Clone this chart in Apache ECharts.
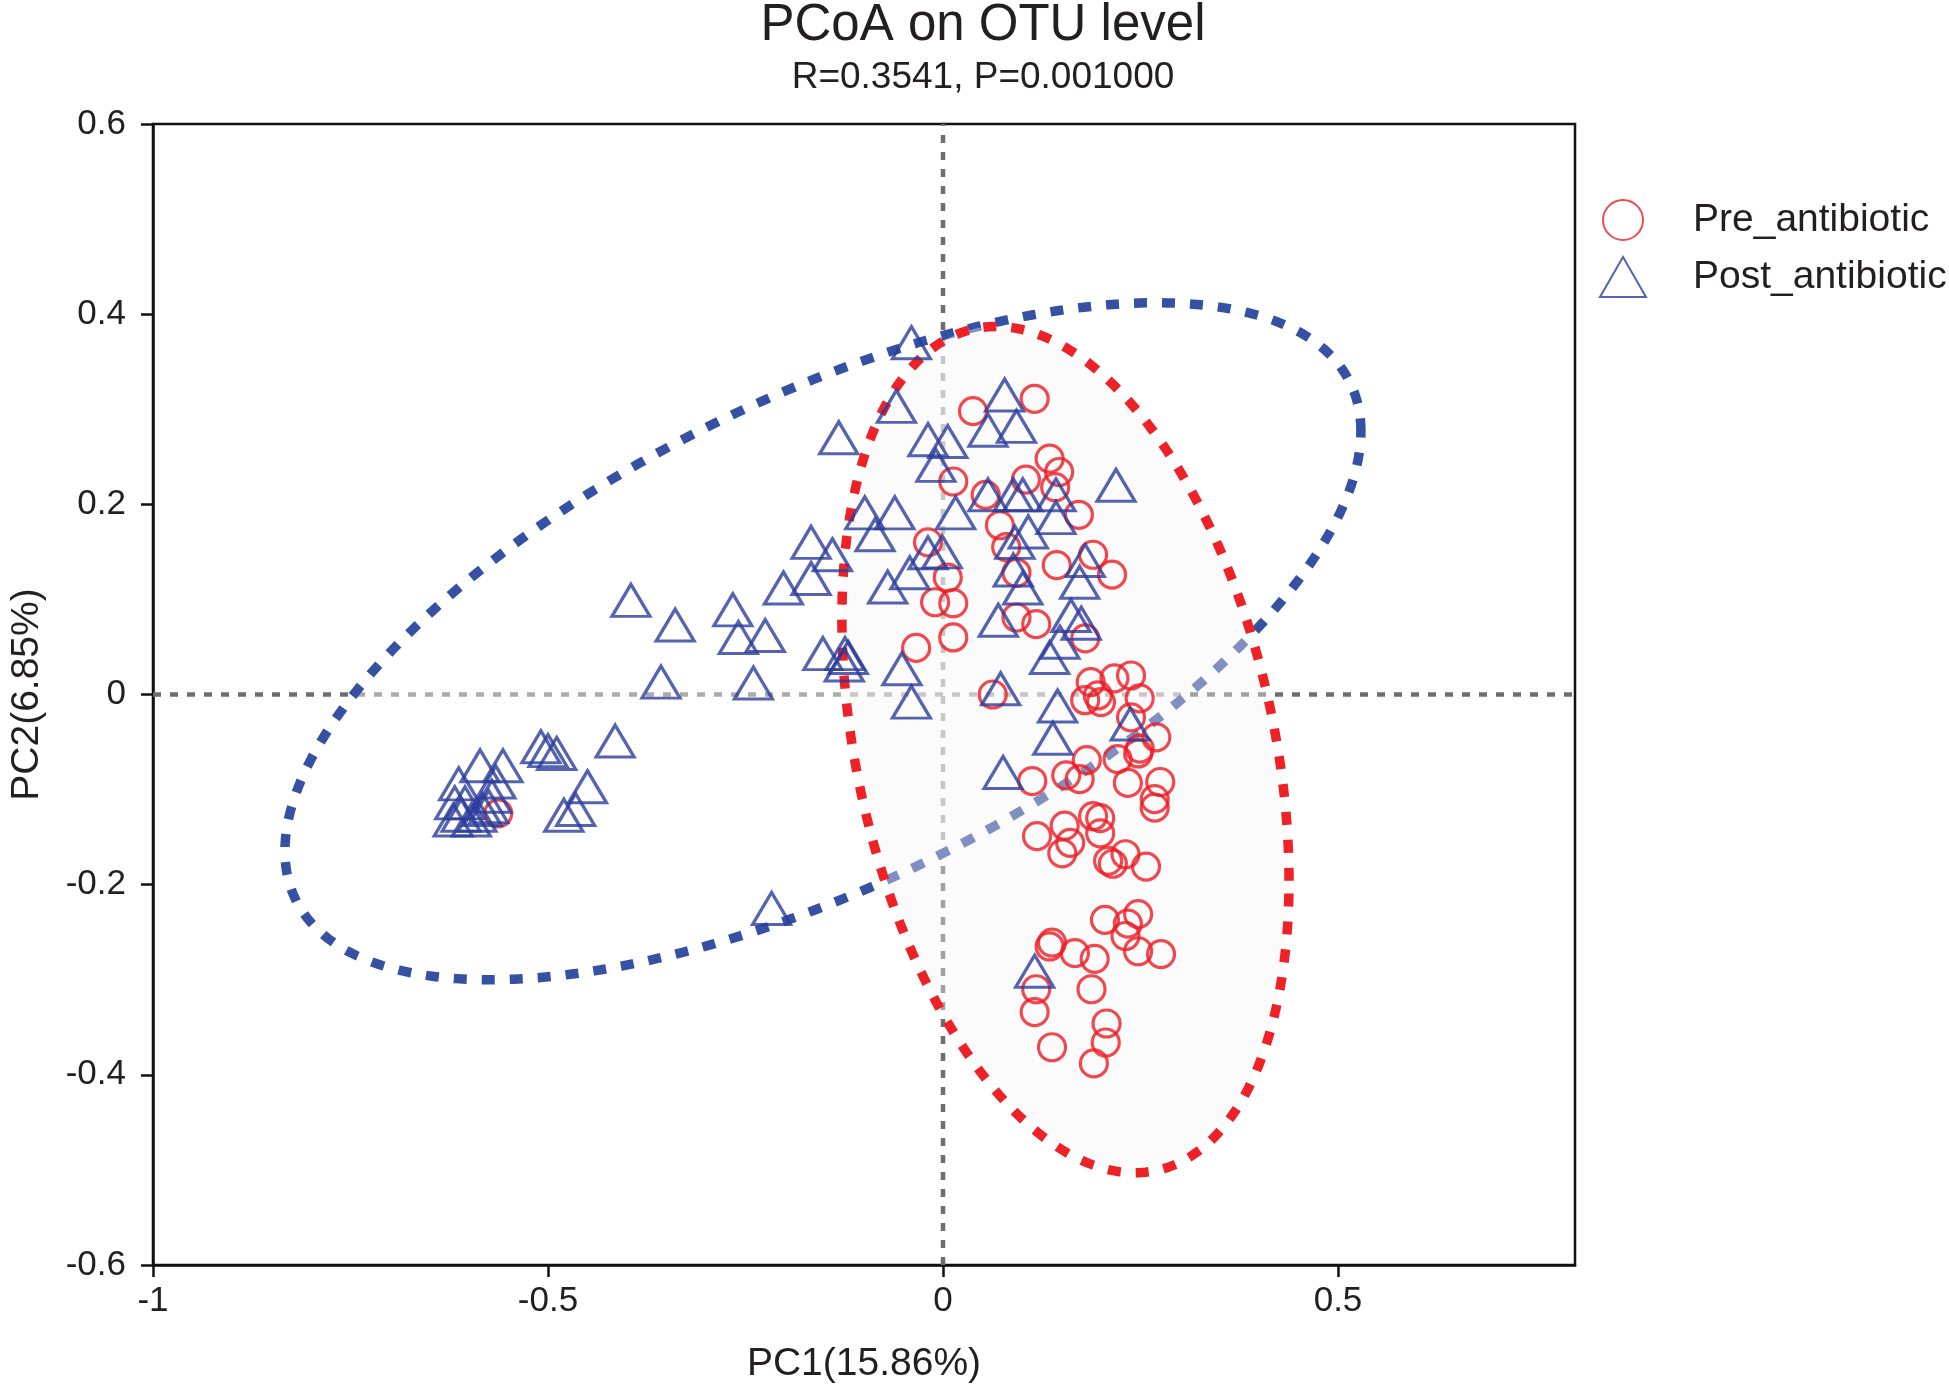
<!DOCTYPE html>
<html>
<head>
<meta charset="utf-8">
<title>PCoA on OTU level</title>
<script src="https://cdn.jsdelivr.net/npm/echarts@6/dist/echarts.min.js"></script>
<style>
  html, body { margin: 0; padding: 0; background: #fff; }
  #chart { width: 1949px; height: 1390px; }
</style>
</head>
<body>
<div id="chart"></div>
<script>
// groups and axis ranges
var groups = ["Pre_antibiotic", "Post_antibiotic"];
var xRange = [-1, 0.8];
var yRange = [-0.6, 0.6];

// PC1 / PC2 scores
var prePoints = [
    [0.116, 0.311], [0.038, 0.298], [0.135, 0.248], [0.147, 0.234], [0.105, 0.226],
    [0.142, 0.218], [0.013, 0.224], [0.054, 0.21], [0.172, 0.189], [0.072, 0.178],
    [0.080, 0.155], [-0.019, 0.16], [0.144, 0.136], [0.19, 0.147], [0.214, 0.126],
    [0.093, 0.128], [0.006, 0.123], [-0.010, 0.097], [0.013, 0.096], [0.093, 0.081],
    [0.118, 0.074], [0.013, 0.06], [0.18, 0.059], [-0.034, 0.049], [0.187, 0.013],
    [0.196, -0.001], [0.217, 0.017], [0.238, 0.02], [0.249, -0.004], [0.18, -0.006],
    [0.063, 0.0], [0.2, -0.008], [0.238, -0.024], [0.27, -0.045], [0.247, -0.062],
    [0.221, -0.068], [0.249, -0.057], [0.182, -0.069], [0.156, -0.085], [0.173, -0.089],
    [0.113, -0.091], [0.234, -0.093], [0.275, -0.092], [0.268, -0.11], [0.268, -0.119],
    [0.19, -0.128], [0.199, -0.13], [0.199, -0.146], [0.154, -0.138], [0.161, -0.156],
    [0.151, -0.167], [0.119, -0.149], [0.209, -0.175], [0.215, -0.178], [0.231, -0.168],
    [0.257, -0.181], [0.205, -0.237], [0.247, -0.231], [0.234, -0.241], [0.231, -0.254],
    [0.247, -0.27], [0.276, -0.273], [0.138, -0.261], [0.135, -0.265], [0.167, -0.272],
    [0.192, -0.278], [0.118, -0.31], [0.116, -0.334], [0.188, -0.31], [0.207, -0.346],
    [0.206, -0.366], [0.138, -0.371], [0.191, -0.388], [-0.563, -0.125]
];
var postPoints = [
    [-0.040, 0.370], [-0.059, 0.303], [-0.132, 0.27], [-0.019, 0.268], [0.006, 0.266],
    [-0.009, 0.241], [-0.099, 0.191], [-0.061, 0.191], [0.016, 0.191], [-0.167, 0.16],
    [-0.14, 0.147], [-0.167, 0.122], [-0.202, 0.112], [-0.086, 0.168], [-0.07, 0.113],
    [-0.042, 0.128], [-0.019, 0.149], [-0.001, 0.15], [-0.152, 0.043], [-0.124, 0.043],
    [-0.12, 0.039], [-0.125, 0.031], [-0.052, 0.027], [-0.04, -0.008], [-0.266, 0.089],
    [-0.259, 0.06], [-0.225, 0.062], [-0.24, 0.012], [-0.395, 0.099], [-0.339, 0.073],
    [-0.357, 0.013], [-0.415, -0.049], [-0.509, -0.055], [-0.5, -0.059], [-0.489, -0.062],
    [-0.45, -0.097], [-0.465, -0.121], [-0.48, -0.127], [-0.217, -0.225],
    [0.078, 0.315], [0.093, 0.282], [0.057, 0.278], [0.219, 0.22], [0.089, 0.21],
    [0.101, 0.21], [0.143, 0.21], [0.057, 0.21], [0.143, 0.186], [0.108, 0.171],
    [0.091, 0.16], [0.18, 0.141], [0.173, 0.118], [0.089, 0.131], [0.101, 0.112],
    [0.07, 0.078], [0.162, 0.083], [0.175, 0.075], [0.148, 0.055], [0.135, 0.039],
    [0.073, 0.006], [0.145, -0.012], [0.139, -0.046], [0.076, -0.082], [0.237, -0.031],
    [0.116, -0.291],
    [-0.613, -0.094], [-0.586, -0.075], [-0.557, -0.075], [-0.566, -0.092], [-0.571, -0.107],
    [-0.583, -0.121], [-0.605, -0.114], [-0.618, -0.114], [-0.61, -0.127], [-0.59, -0.127],
    [-0.62, -0.132], [-0.597, -0.132], [-0.575, -0.118]
];

// group ellipses: centre, half extent in x / y, and correlation (pre, post)
var ellipseCenter = [[0.155, -0.058], [-0.152, 0.056]];
var ellipseSize = [[0.283, 0.445], [0.681, 0.356]];
var ellipseCorr = [-0.31, 0.62];

var colors = ["#ed1c24", "#2b3c9c"];
var ellipseColors = ["#ee2126", "#3651a3"];
var ellipseFills = ["rgba(248,245,245,0.38)", "rgba(255,255,255,0.42)"];
var font = "Liberation Sans, Arial, Helvetica, sans-serif";
var textColor = "#231f20";

function makeEllipse(i) {
    return {
        type: "custom",
        coordinateSystem: "cartesian2d",
        silent: true,
        z: i == 0 ? 3 : 2,
        encode: { x: 0, y: 1 },
        data: [ellipseCenter[i]],
        renderItem: function(params, api) {
            var cx = api.value(0), cy = api.value(1);
            var sx = ellipseSize[i][0], sy = ellipseSize[i][1], r = ellipseCorr[i];
            var pts = [];
            for (var k = 0; k < 360; k++) {
                var t = k / 360 * Math.PI * 2;
                var x = cx + sx * Math.cos(t);
                var y = cy + r * sy * Math.cos(t) + sy * Math.sqrt(1 - r * r) * Math.sin(t);
                pts.push(api.coord([x, y]));
            }
            return {
                type: "polygon",
                shape: { points: pts },
                style: {
                    fill: ellipseFills[i],
                    stroke: ellipseColors[i],
                    lineWidth: 9.5,
                    lineDash: [13, 15],
                    lineCap: "butt"
                }
            };
        }
    };
}

var chart = echarts.init(document.getElementById("chart"));
var option = {
    animation: false,
    backgroundColor: "#fff",
    title: [{
        text: "PCoA on OTU level",
        left: 978, textAlign: "center", top: -5,
        textStyle: { fontFamily: font, fontSize: 51, fontWeight: "normal", color: textColor }
    }, {
        text: "R=0.3541, P=0.001000",
        left: 978, textAlign: "center", top: 54,
        textStyle: { fontFamily: font, fontSize: 37, fontWeight: "normal", color: textColor }
    }],
    legend: {
        orient: "vertical",
        left: 1594, top: 194,
        itemWidth: 46, itemHeight: 40, itemGap: 15,
        textStyle: { fontFamily: font, fontSize: 39, color: textColor, padding: [0, 0, 0, 42] },
        data: [
            { name: groups[0], icon: "circle" },
            { name: groups[1], icon: "triangle" }
        ]
    },
    grid: {
        left: 149, right: 374, top: 124, bottom: 125,
        show: true, borderColor: "#111", borderWidth: 2.5, backgroundColor: "transparent"
    },
    xAxis: {
        type: "value",
        min: xRange[0], max: xRange[1], interval: 0.5,
        name: "PC1(15.86%)",
        nameLocation: "middle", nameGap: 80,
        nameTextStyle: { fontFamily: font, fontSize: 39, color: textColor },
        axisLine: { show: true, onZero: false, lineStyle: { color: "#111", width: 2.5 } },
        axisTick: { show: true, length: 12, lineStyle: { color: "#111", width: 2.5 } },
        axisLabel: { fontFamily: font, fontSize: 35, color: textColor, margin: 19, showMaxLabel: false },
        splitLine: { show: false }
    },
    yAxis: {
        type: "value",
        min: yRange[0], max: yRange[1], interval: 0.2,
        name: "PC2(6.85%)",
        nameLocation: "middle", nameGap: 106, nameRotate: 90,
        nameTextStyle: { fontFamily: font, fontSize: 39, color: textColor },
        axisLine: { show: true, onZero: false, lineStyle: { color: "#111", width: 2.5 } },
        axisTick: { show: true, length: 12, lineStyle: { color: "#111", width: 2.5 } },
        axisLabel: { fontFamily: font, fontSize: 35, color: textColor, margin: 27 },
        splitLine: { show: false }
    },
    series: [{
        // dashed reference lines through the origin
        type: "custom",
        coordinateSystem: "cartesian2d",
        silent: true,
        z: 1,
        encode: { x: 0, y: 1 },
        data: [[0, 0]],
        renderItem: function(params, api) {
            var ox = api.value(0), oy = api.value(1);
            var a = api.coord([ox, yRange[0]]), b = api.coord([ox, yRange[1]]);
            var c = api.coord([xRange[0], oy]), d = api.coord([xRange[1], oy]);
            var st = { stroke: "#6e6e6e", lineWidth: 4.5, lineDash: [8, 9] };
            return {
                type: "group",
                children: [
                    { type: "line", shape: { x1: a[0], y1: a[1], x2: b[0], y2: b[1] }, style: st },
                    { type: "line", shape: { x1: c[0], y1: c[1], x2: d[0], y2: d[1] }, style: st }
                ]
            };
        }
    },
    makeEllipse(1),
    makeEllipse(0),
    {
        name: groups[0],
        type: "scatter",
        z: 5,
        symbol: "circle",
        symbolSize: 27,
        data: prePoints,
        itemStyle: { color: "rgba(255,255,255,0)", borderColor: colors[0], borderWidth: 3.2 },
        emphasis: { disabled: true }
    }, {
        name: groups[1],
        type: "scatter",
        z: 6,
        symbol: "triangle",
        symbolSize: [38, 32],
        data: postPoints,
        itemStyle: { color: "rgba(255,255,255,0)", borderColor: colors[1], borderWidth: 3.2 },
        emphasis: { disabled: true }
    }]
};
chart.setOption(option);
window.addEventListener("resize", chart.resize);
</script>
</body>
</html>
